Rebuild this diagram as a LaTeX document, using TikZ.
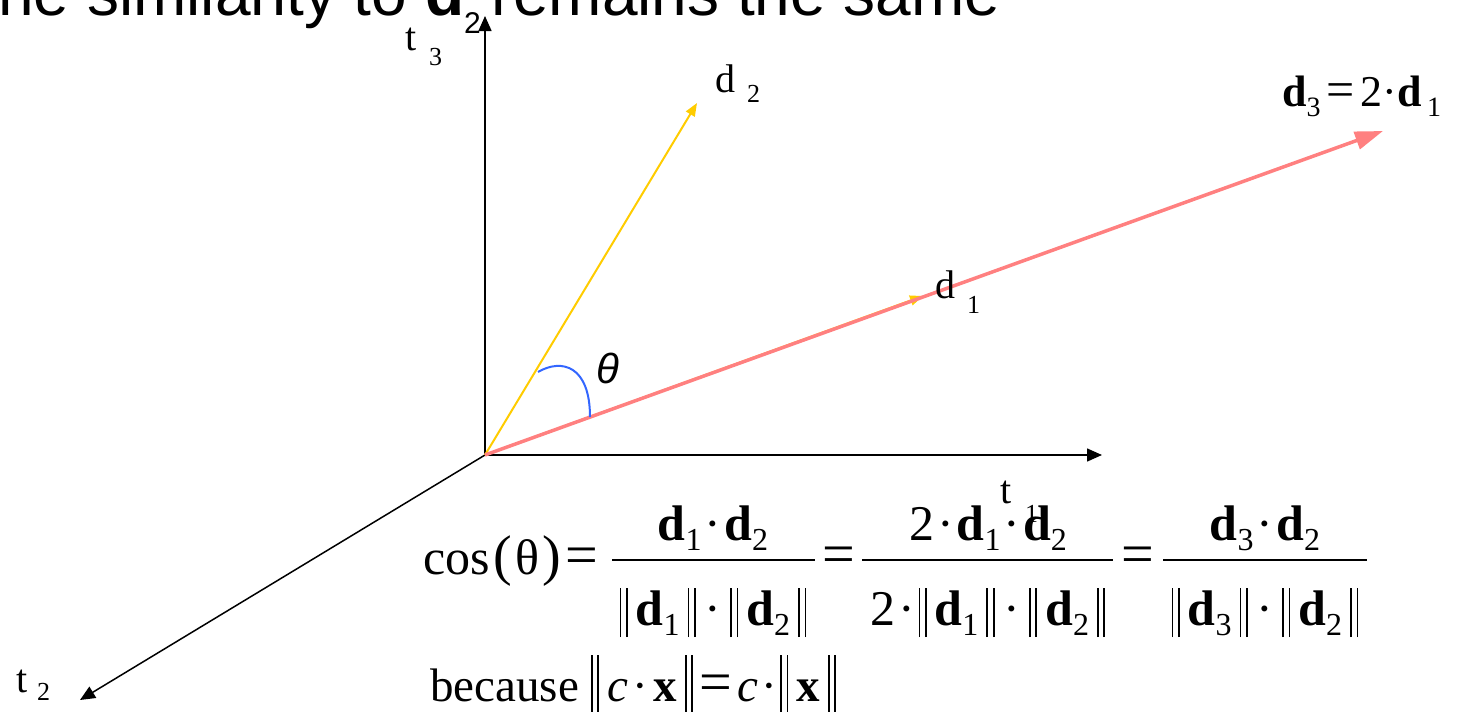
\documentclass[tikz,border=0pt]{standalone}
\usepackage{fontspec}
\setmainfont{Liberation Serif}
\newfontfamily\sansf{Liberation Sans}
\usetikzlibrary{arrows.meta}
\definecolor{dred}{RGB}{255,128,128}
\definecolor{dyel}{RGB}{255,204,0}
\definecolor{dblue}{RGB}{51,102,255}
\newcommand{\fsz}[1]{\fontsize{#1}{#1}\selectfont}
\newcommand{\bd}{\textbf{d}}
\newcommand{\fs}[1]{\raisebox{-10pt}{\fsz{32}#1}}
\newcommand{\cdt}{\hspace{3pt}·\hspace{3pt}}
\newcommand{\dcdt}{\hspace{9pt}·\hspace{9pt}}
\newcommand{\nbar}{\rule[-12pt]{1.8pt}{49pt}\hspace{4.5pt}\rule[-12pt]{1.8pt}{49pt}}
\newcommand{\nrm}[1]{\nbar\hspace{8pt}#1\hspace{8pt}\nbar}
\newcommand{\nbarb}{\rule[-14pt]{1.8pt}{60pt}\hspace{4.5pt}\rule[-14pt]{1.8pt}{60pt}}
\newcommand{\nrmb}[1]{\nbarb\hspace{8pt}#1\hspace{8pt}\nbarb}
\tikzset{
  axis/.style={line width=1.5pt,-{Triangle[length=15pt,width=13pt]}},
  lab/.style={anchor=base west,inner sep=0pt,font=\fsz{40}},
  sublab/.style={anchor=base west,inner sep=0pt,font=\fsz{26}},
  form/.style={anchor=base,inner sep=0pt,font=\fsz{50}},
  eqs/.style={anchor=base,inner sep=0pt,font=\fsz{58}},
  fbar/.style={line width=2.5pt},
}
\begin{document}
\begin{tikzpicture}[x=1pt,y=-1pt]
\useasboundingbox (0,0) rectangle (1457,712);
% title (clipped at top)
\node[anchor=base west,inner sep=0pt,font=\sansf\fsz{64}] (title) at (-41,15)
  {The similarity to \textbf{d}\raisebox{-18pt}{\fsz{30}2}\hspace{11pt}remains the same};
% points
\coordinate (O) at (485,455);
\coordinate (T3) at (485,16);
\coordinate (T1) at (1102,455);
\coordinate (T2) at (80,700);
\coordinate (D2) at (697,103);
\coordinate (D1) at (923,296);
\coordinate (D3) at (1383,131);
% axes
\draw[axis] (O) -- (T3);
\draw[axis] (O) -- (T1);
\draw[axis] (O) -- (T2);
% vectors
\draw[dyel,line width=2pt,-{Triangle[length=13pt,width=10pt]}] (O) -- (D2);
\draw[dyel,line width=2pt,-{Triangle[length=13pt,width=10pt]}] (O) -- (D1);
\draw[dred,line width=3.5pt,-{Triangle[length=28pt,width=18pt]}] (O) -- (D3);
% angle
\draw[dblue,line width=2pt] (538,372) .. controls (562,358) and (590,366) .. (590,417);
\node[font=\sansf\itshape\fsz{42}] (th) at (608,368) {θ};
% labels
\node[lab] (t3) at (405,50) {t};
\node[sublab] (t3s) at (429,65) {3};
\node[lab] (d2) at (715,92) {d};
\node[sublab] (d2s) at (747,102) {2};
\node[lab] (d1) at (935,298) {d};
\node[sublab] (d1s) at (967,313) {1};
\node[lab] (t1) at (1000,503) {t};
\node[sublab] (t1s) at (1025,522) {1};
\node[lab] (t2) at (16,692) {t};
\node[sublab] (t2s) at (37,700) {2};
\node[anchor=base west,inner sep=0pt,font=\fsz{44}] (d3) at (1282,106)
  {\bd\raisebox{-10pt}{\fsz{28}3}\hspace{6pt}{\fsz{50}=}\hspace{6pt}2·\bd\hspace{5pt}\raisebox{-10pt}{\fsz{28}1}};
% formula
\node[form,anchor=base west] (cos) at (423,574)
  {cos\hspace{4pt}{\fsz{56}(}\hspace{3pt}θ\hspace{3pt}{\fsz{56})}\hspace{4pt}{\fsz{58}=}};
\node[form] (n1) at (713,540) {\bd\fs{1}\cdt\bd\fs{2}};
\node[form] (m1) at (713,625) {\nrm{\bd\fs{1}}\dcdt\nrm{\bd\fs{2}}};
\draw[fbar] (612,560) -- (815,560);
\node[eqs] (e1) at (839,573) {=};
\node[form] (n2) at (988,540) {2\cdt\bd\fs{1}\cdt\bd\fs{2}};
\node[form] (m2) at (988,625) {2\cdt\nrm{\bd\fs{1}}\dcdt\nrm{\bd\fs{2}}};
\draw[fbar] (862,560) -- (1113,560);
\node[eqs] (e2) at (1138,573) {=};
\node[form] (n3) at (1265,540) {\bd\fs{3}\cdt\bd\fs{2}};
\node[form] (m3) at (1265,625) {\nrm{\bd\fs{3}}\dcdt\nrm{\bd\fs{2}}};
\draw[fbar] (1163,560) -- (1367,560);
\node[anchor=base west,inner sep=0pt,font=\fsz{47}] (bec) at (430,701)
  {because\hspace{12pt}\nrmb{\textit{c}\hspace{2pt}\cdt\hspace{2pt}\textbf{x}}\hspace{6pt}{\fsz{58}=}\hspace{6pt}\textit{c}\cdt\nrmb{\textbf{x}}};
\end{tikzpicture}
\end{document}
